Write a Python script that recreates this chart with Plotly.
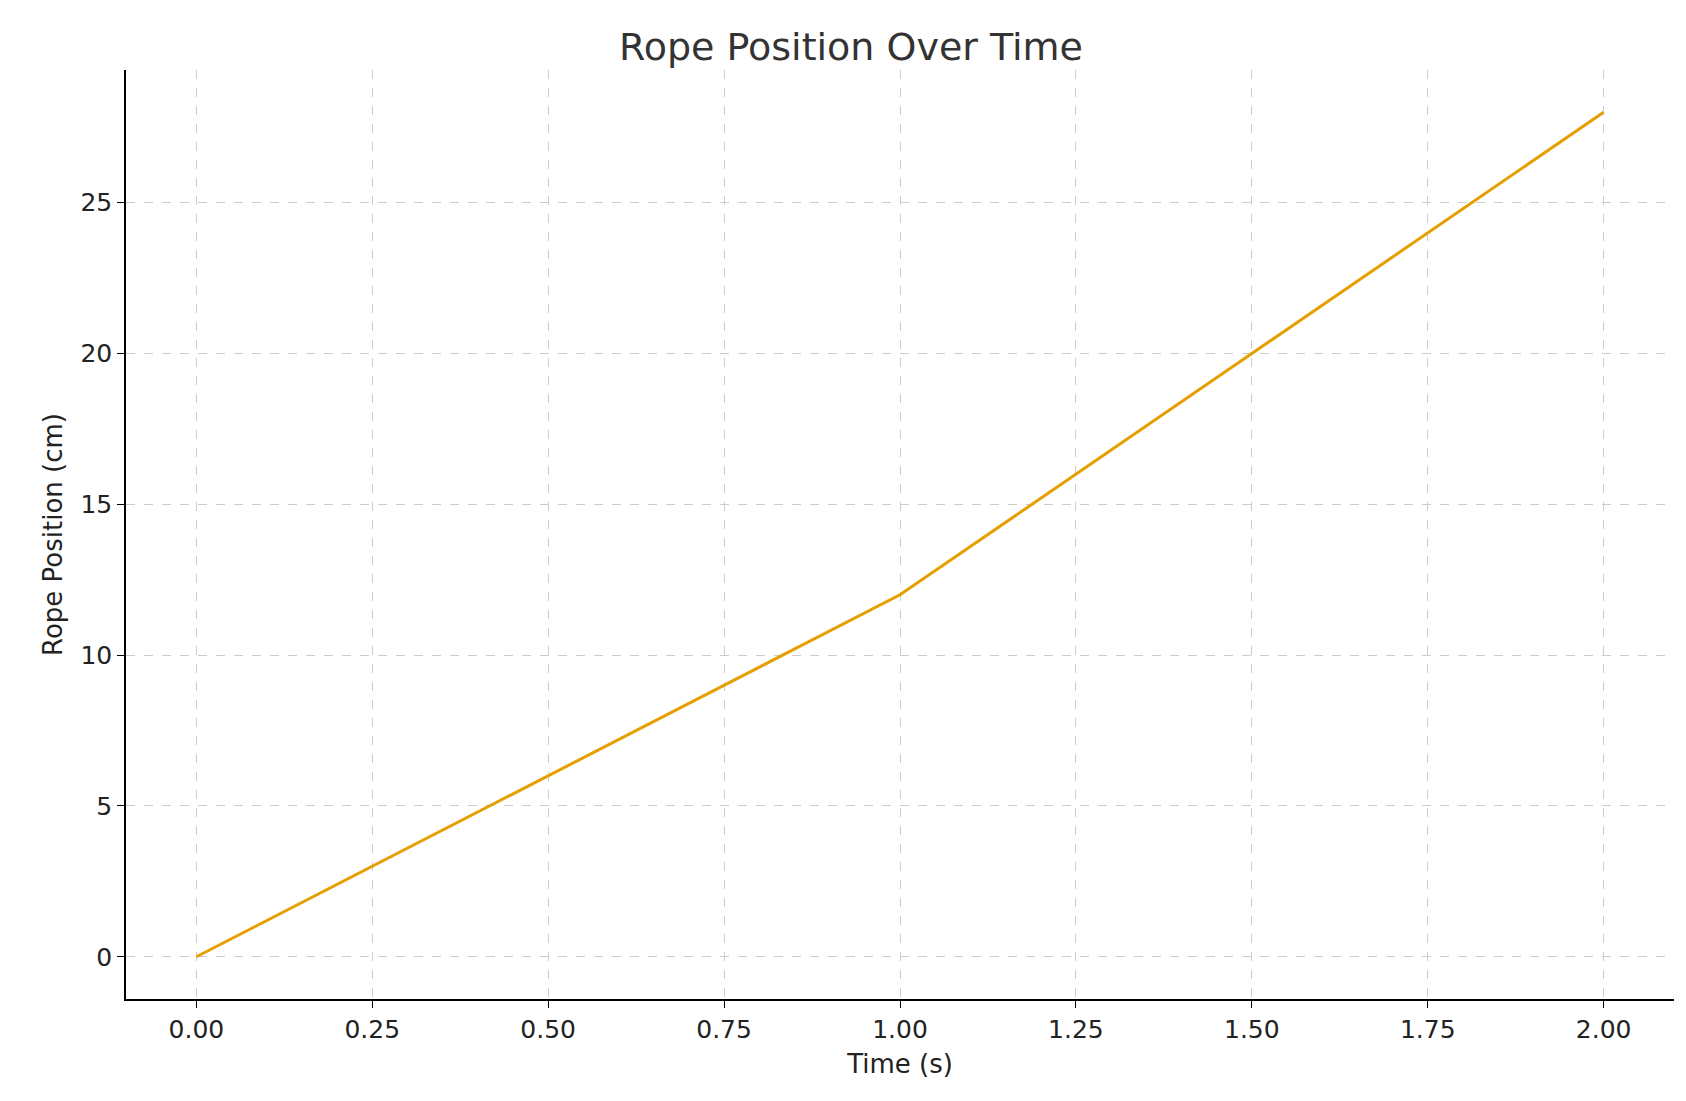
import plotly.graph_objects as go

# rope position samples
time_s = [0.0, 0.5, 1.0, 1.5, 2.0]
position_cm = [0, 6, 12, 20, 28]
x_ticks = [0, 0.25, 0.5, 0.75, 1.0, 1.25, 1.5, 1.75, 2.0]
y_ticks = [0, 5, 10, 15, 20, 25]

fig = go.Figure(go.Scatter(
    x=time_s, y=position_cm, mode='lines',
    line=dict(color='#E69F00', width=3)
))

axis_common = dict(
    showline=True, linecolor='black', linewidth=1.5,
    ticks='outside', ticklen=7, tickcolor='black',
    showgrid=True, gridcolor='#cccccc', griddash='dash', gridwidth=1,
    zeroline=False, mirror=False,
    tickfont=dict(size=25, color='#222'),
    title_font=dict(size=26, color='#222'),
)

fig.update_layout(
    width=1686, height=1101,
    paper_bgcolor='white', plot_bgcolor='white',
    font=dict(family='DejaVu Sans'),
    title=dict(text='Rope Position Over Time', x=0.5, xanchor='center',
               y=0.965, yanchor='middle', font=dict(size=38, color='#333')),
    margin=dict(l=118, r=20, t=62, b=110),
    showlegend=False,
    xaxis=dict(axis_common, range=[-0.1, 2.1], tickvals=x_ticks,
               ticktext=[f'{v:.2f}' for v in x_ticks], title_text='Time (s)',
               title_standoff=12),
    yaxis=dict(axis_common, range=[-1.4, 29.4], tickvals=y_ticks,
               title_text='Rope Position (cm)', title_standoff=10),
)

fig.write_html("out.html")
